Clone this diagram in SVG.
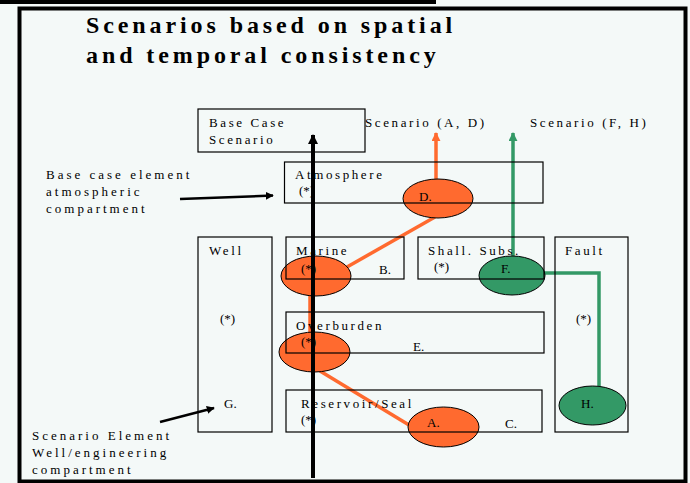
<svg xmlns="http://www.w3.org/2000/svg" width="690" height="483" viewBox="0 0 690 483">
<defs>
<style>
.t{font-family:"Liberation Serif","Times New Roman",serif;font-size:13px;fill:#000;letter-spacing:2.6px}
.s{font-family:"Liberation Serif","Times New Roman",serif;font-size:13px;fill:#000}
.title{font-family:"Liberation Serif","Times New Roman",serif;font-size:24px;font-weight:bold;fill:#000;letter-spacing:3.9px}
.box{fill:none;stroke:#000;stroke-width:1.2}
.eo{fill:#ff6a2f;stroke:#000;stroke-width:1}
.eg{fill:#339966;stroke:#000;stroke-width:1}
.lo{fill:none;stroke:#ff6a2f;stroke-width:3.5}
.lg{fill:none;stroke:#339966;stroke-width:3.5}
.lb{fill:none;stroke:#000;stroke-width:4}
.la{fill:none;stroke:#000;stroke-width:2.5}
</style>
<marker id="ab" markerUnits="userSpaceOnUse" viewBox="0 0 10 10" refX="9" refY="5" markerWidth="10" markerHeight="10" orient="auto"><path d="M0,0 L10,5 L0,10 Z" fill="#000"/></marker>
<marker id="as" markerUnits="userSpaceOnUse" viewBox="0 0 10 10" refX="9" refY="5" markerWidth="8" markerHeight="8" orient="auto"><path d="M0,0 L10,5 L0,10 Z" fill="#000"/></marker>
<marker id="ao" markerUnits="userSpaceOnUse" viewBox="0 0 10 10" refX="9" refY="5" markerWidth="9" markerHeight="9" orient="auto"><path d="M0,0 L10,5 L0,10 Z" fill="#ff6a2f"/></marker>
<marker id="ag" markerUnits="userSpaceOnUse" viewBox="0 0 10 10" refX="9" refY="5" markerWidth="9" markerHeight="9" orient="auto"><path d="M0,0 L10,5 L0,10 Z" fill="#339966"/></marker>
</defs>
<rect x="0" y="0" width="690" height="483" fill="#f4f9f8"/>
<rect x="0" y="0" width="436" height="4" fill="#000"/>
<rect x="19.5" y="8.5" width="666" height="473" fill="#f4f9f8" stroke="#000" stroke-width="4"/>
<g id="title">
<text class="title" x="86" y="33">Scenarios based on spatial</text>
<text class="title" x="86" y="63">and temporal consistency</text>
</g>
<g id="connectors-colored">
<line class="lo" x1="436" y1="179" x2="436" y2="133" marker-end="url(#ao)"/>
<line class="lg" x1="513" y1="256" x2="513" y2="133" marker-end="url(#ag)"/>
<line class="lo" x1="435" y1="217" x2="347" y2="267"/>
<line class="lo" x1="310" y1="295" x2="310" y2="333"/>
<line class="lo" x1="320" y1="371" x2="409" y2="425"/>
<polyline class="lg" points="544,273 599,273 599,386"/>
</g>
<g id="ellipse-marine"><ellipse class="eo" cx="316" cy="276" rx="35" ry="20"/></g>
<g id="ellipse-overburden"><ellipse class="eo" cx="314.5" cy="352" rx="35.5" ry="20"/></g>
<g id="ellipse-D"><ellipse class="eo" cx="438" cy="198.5" rx="35" ry="19.5"/></g>
<g id="ellipse-A"><ellipse class="eo" cx="443.5" cy="427" rx="35.5" ry="20"/></g>
<g id="ellipse-F"><ellipse class="eg" cx="512" cy="275.5" rx="33" ry="19.5"/></g>
<g id="ellipse-H"><ellipse class="eg" cx="592.5" cy="405.5" rx="33.5" ry="19.5"/></g>
<g id="base-case">
<rect class="box" x="198" y="109" width="167" height="43"/>
<text class="t" x="209" y="127">Base Case</text>
<text class="t" x="209" y="144">Scenario</text>
</g>
<g id="scenario-AD"><text class="t" x="365" y="127">Scenario (A, D)</text></g>
<g id="scenario-FH"><text class="t" x="530" y="127">Scenario (F, H)</text></g>
<g id="atmosphere">
<rect class="box" x="284.5" y="162" width="258.5" height="41"/>
<text class="t" x="295" y="179">Atmosphere</text>
<text class="s" x="299" y="195">(*)</text>
<text class="s" x="419" y="201">D.</text>
</g>
<g id="well">
<rect class="box" x="198" y="237" width="74" height="195"/>
<text class="t" x="209" y="255">Well</text>
<text class="s" x="220" y="323">(*)</text>
<text class="s" x="224" y="408">G.</text>
</g>
<g id="marine">
<rect class="box" x="286" y="237" width="118" height="42"/>
<text class="t" x="296" y="255">Marine</text>
<text class="s" x="301" y="273">(*)</text>
<text class="s" x="379" y="274">B.</text>
</g>
<g id="shallow-subsurface">
<rect class="box" x="418" y="237" width="126" height="42"/>
<text class="t" x="428" y="255">Shall. Subs.</text>
<text class="s" x="434" y="271">(*)</text>
<text class="s" x="501" y="273">F.</text>
</g>
<g id="fault">
<rect class="box" x="555" y="237" width="73" height="195"/>
<text class="t" x="565" y="255">Fault</text>
<text class="s" x="576" y="323">(*)</text>
<text class="s" x="581" y="408">H.</text>
</g>
<g id="overburden">
<rect class="box" x="286" y="312" width="258" height="41"/>
<text class="t" x="296" y="330">Overburden</text>
<text class="s" x="301" y="346">(*)</text>
<text class="s" x="413" y="351">E.</text>
</g>
<g id="reservoir">
<rect class="box" x="286" y="390" width="256" height="42"/>
<text class="t" x="301" y="408">Reservoir/Seal</text>
<text class="s" x="301" y="424">(*)</text>
<text class="s" x="427" y="427">A.</text>
<text class="s" x="505" y="428">C.</text>
</g>
<g id="label-base-element">
<text class="t" x="46" y="179" style="letter-spacing:3px">Base case element</text>
<text class="t" x="46" y="196" style="letter-spacing:3px">atmospheric</text>
<text class="t" x="46" y="213" style="letter-spacing:3px">compartment</text>
</g>
<g id="label-scenario-element">
<text class="t" x="32" y="440" style="letter-spacing:3px">Scenario Element</text>
<text class="t" x="32" y="457" style="letter-spacing:3px">Well/engineering</text>
<text class="t" x="32" y="474" style="letter-spacing:3px">compartment</text>
</g>
<g id="connectors-black">
<line class="lb" x1="313" y1="478" x2="313" y2="135" marker-end="url(#ab)"/>
<line class="la" x1="180" y1="199" x2="273" y2="195.5" marker-end="url(#as)"/>
<line class="la" x1="160" y1="422" x2="214" y2="408" marker-end="url(#as)"/>
</g>
</svg>
